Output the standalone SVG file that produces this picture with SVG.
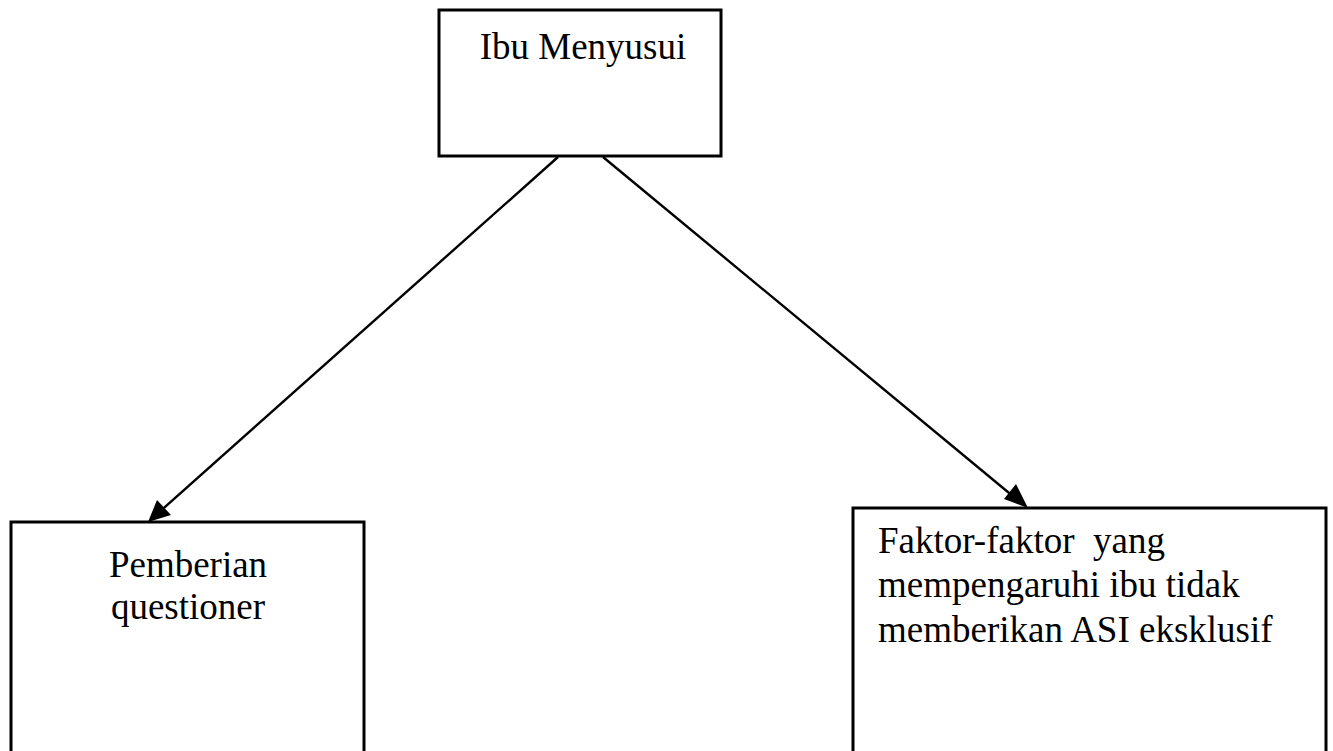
<svg xmlns="http://www.w3.org/2000/svg" width="1333" height="751" viewBox="0 0 1333 751">
<style>
.box{fill:#fff;stroke:#000;stroke-width:3}
.lbl{font-family:"Liberation Serif","Times New Roman",serif;font-size:37px;fill:#000}
.conn{stroke:#000;stroke-width:2.4;fill:none}
.head{fill:#000}
</style>
<rect width="1333" height="751" fill="#fff"/>
<g id="node-ibu">
<rect class="box" x="439" y="10" width="282" height="146"/>
<text class="lbl" x="583" y="59" text-anchor="middle">Ibu Menyusui</text>
</g>
<g id="node-pemberian">
<rect class="box" x="11" y="522" width="353" height="240"/>
<text class="lbl" x="188" y="577" text-anchor="middle">Pemberian</text>
<text class="lbl" x="188" y="619" text-anchor="middle">questioner</text>
</g>
<g id="node-faktor">
<rect class="box" x="853" y="508" width="473" height="254"/>
<text class="lbl" x="878" y="553">Faktor-faktor&#160; yang</text>
<text class="lbl" x="878" y="597">mempengaruhi ibu tidak</text>
<text class="lbl" x="878" y="642">memberikan ASI eksklusif</text>
</g>
<g id="connectors">
<path class="conn" d="M558,157 L156,515"/>
<path class="conn" d="M603,157 L1020,502"/>
<path class="head" d="M148,522 L157,500 L171,515 Z"/>
<path class="head" d="M1028,508 L1004,499 L1016,484 Z"/>
</g>
</svg>
